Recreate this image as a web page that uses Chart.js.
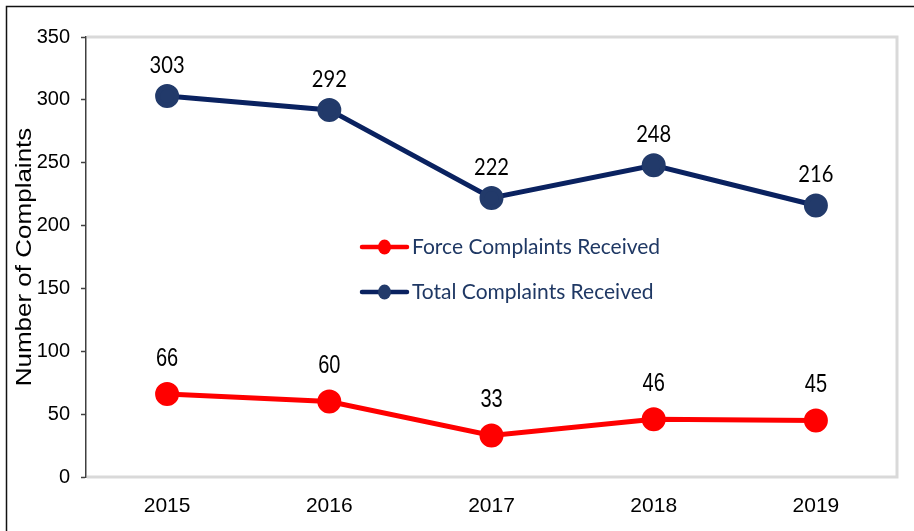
<!DOCTYPE html>
<html>
<head>
<meta charset="utf-8">
<script src="https://cdn.jsdelivr.net/npm/chart.js@4.4.0/dist/chart.umd.min.js"></script>
<style>
  html, body { margin: 0; padding: 0; background: #fff; }
  #wrap { width: 914px; height: 531px; }
</style>
</head>
<body>
<div id="wrap"><canvas id="chart" width="914" height="531"></canvas></div>
<script>
const years = ['2015', '2016', '2017', '2018', '2019'];
const forceComplaints = [66, 60, 33, 46, 45];
const totalComplaints = [303, 292, 222, 248, 216];
const yTicks = [0, 50, 100, 150, 200, 250, 300, 350];
const yTitle = 'Number of Complaints';

const RED = '#ff0000';
const NAVY_LINE = '#0a2260';
const NAVY_POINT = '#223a6a';

// black frame round the picture, gray frame round the plot, y title
const framePlugin = {
    id: 'frames',
    beforeDraw(chart) {
        const c = chart.ctx;
        c.save();
        c.strokeStyle = '#111';
        c.lineWidth = 1.5;
        c.beginPath();
        c.moveTo(6.5, chart.height);
        c.lineTo(6.5, 6.5);
        c.lineTo(chart.width, 6.5);
        c.stroke();
        c.restore();
    },
    beforeDatasetsDraw(chart) {
        const a = chart.chartArea;
        const c = chart.ctx;
        c.save();
        c.strokeStyle = '#d9d9d9';
        c.lineWidth = 3;
        c.beginPath();
        c.moveTo(a.left + 1, a.top);
        c.lineTo(a.right, a.top);
        c.lineTo(a.right, a.bottom);
        c.lineTo(a.left + 1, a.bottom);
        c.stroke();
        // axis title, a little squeezed like the original
        c.fillStyle = '#000';
        c.font = '26px "Liberation Sans", Arial, sans-serif';
        c.textAlign = 'center';
        c.textBaseline = 'middle';
        c.translate(25, (a.top + a.bottom) / 2);
        c.rotate(-Math.PI / 2);
        c.scale(1, 0.86);
        c.fillText(yTitle, 0, 0);
        c.restore();
    }
};

// value labels above each point
const valueLabels = {
    id: 'valueLabels',
    afterDatasetsDraw(chart) {
        const c = chart.ctx;
        chart.data.datasets.forEach((ds, i) => {
            const meta = chart.getDatasetMeta(i);
            meta.data.forEach((pt, j) => {
                c.save();
                c.font = ds.labelFont;
                c.fillStyle = '#000';
                c.textAlign = 'center';
                c.textBaseline = 'middle';
                c.translate(pt.x, pt.y - ds.labelOffset);
                c.scale(ds.labelScale, 1);
                c.fillText(String(ds.data[j]), 0, 0);
                c.restore();
            });
        });
    }
};

// legend drawn inside the plot
const innerLegend = {
    id: 'innerLegend',
    afterDraw(chart) {
        const c = chart.ctx;
        const rows = [1, 0];
        rows.forEach((idx, r) => {
            const ds = chart.data.datasets[idx];
            const y = 247 + r * 45;
            c.save();
            c.strokeStyle = ds.borderColor;
            c.lineWidth = 4.5;
            c.lineCap = 'round';
            c.beginPath();
            c.moveTo(362, y);
            c.lineTo(407, y);
            c.stroke();
            c.fillStyle = ds.pointBackgroundColor;
            c.beginPath();
            c.ellipse(384.5, y, 6.5, 7.5, 0, 0, Math.PI * 2);
            c.fill();
            c.fillStyle = '#1f3864';
            c.font = '21px Lato, sans-serif';
            c.textBaseline = 'middle';
            c.fillText(ds.label, 412, y);
            c.restore();
        });
    }
};

const data = {
    labels: years,
    datasets: [{
        label: 'Total Complaints Received',
        data: totalComplaints,
        borderColor: NAVY_LINE,
        backgroundColor: NAVY_POINT,
        pointBackgroundColor: NAVY_POINT,
        pointBorderColor: NAVY_POINT,
        borderWidth: 5,
        pointRadius: 9.5,
        pointHoverRadius: 9.5,
        tension: 0,
        labelFont: '24px Lato, sans-serif',
        labelScale: 0.84,
        labelOffset: 31
    }, {
        label: 'Force Complaints Received',
        data: forceComplaints,
        borderColor: RED,
        backgroundColor: RED,
        pointBackgroundColor: RED,
        pointBorderColor: RED,
        borderWidth: 5,
        pointRadius: 9.5,
        pointHoverRadius: 9.5,
        tension: 0,
        labelFont: '25px "Liberation Sans", Arial, sans-serif',
        labelScale: 0.8,
        labelOffset: 35
    }]
};

const config = {
    type: 'line',
    data: data,
    options: {
        responsive: false,
        animation: false,
        layout: { padding: { top: 37, right: 17, left: 0, bottom: 0 } },
        plugins: {
            legend: { display: false },
            tooltip: { enabled: false }
        },
        scales: {
            x: {
                offset: true,
                grid: { display: false },
                border: { display: false },
                ticks: {
                    color: '#000',
                    padding: 9,
                    font: { family: '"Liberation Sans Narrow", "Arial Narrow", sans-serif', size: 21 }
                },
                afterFit(scale) { scale.height = 54; }
            },
            y: {
                min: 0,
                max: 350,
                afterBuildTicks(scale) { scale.ticks = yTicks.map(v => ({ value: v })); },
                grid: {
                    drawOnChartArea: false,
                    drawTicks: true,
                    tickLength: 5,
                    tickColor: '#404040',
                    tickWidth: 1.5
                },
                border: { color: '#404040', width: 1.5 },
                ticks: {
                    color: '#000',
                    padding: 11,
                    font: { family: '"Liberation Sans Narrow", "Arial Narrow", sans-serif', size: 20 }
                },
                afterFit(scale) { scale.width = 86; }
            }
        }
    },
    plugins: [framePlugin, valueLabels, innerLegend]
};

new Chart(document.getElementById('chart'), config);
</script>
</body>
</html>
